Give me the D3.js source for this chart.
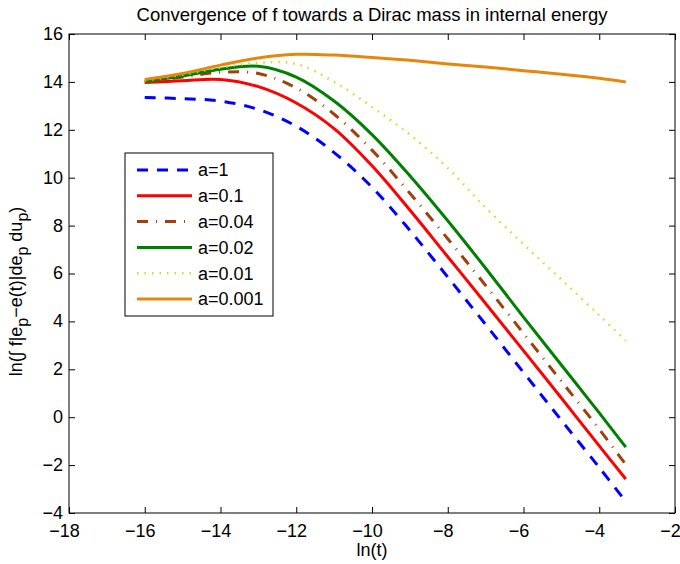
<!DOCTYPE html>
<html>
<head>
<meta charset="utf-8">
<script src="https://cdn.jsdelivr.net/npm/d3@7"></script>
<style>
  body { margin: 0; background: #fff; }
  text { font-family: "Liberation Sans", Arial, Helvetica, sans-serif; }
</style>
</head>
<body>
<div id="chart"></div>
<script>
// values
var lnT = [-16, -15, -14, -13, -12, -11, -10, -9, -8, -7, -6, -5, -4, -3.3];

var a1    = [13.35, 13.3, 13.2, 12.85, 12.15, 11.05, 9.6, 7.8, 5.85, 3.87, 1.87, -0.13, -2.1, -3.52];
var a01   = [13.97, 14.05, 14.1, 13.8, 13.12, 12.05, 10.5, 8.65, 6.7, 4.75, 2.78, 0.8, -1.2, -2.58];
var a004  = [14.0, 14.2, 14.4, 14.35, 13.75, 12.65, 11.15, 9.35, 7.45, 5.5, 3.5, 1.5, -0.5, -1.98];
var a002  = [14.03, 14.25, 14.53, 14.65, 14.2, 13.2, 11.8, 10.08, 8.2, 6.22, 4.18, 2.18, 0.18, -1.25];
var a001  = [14.05, 14.3, 14.6, 14.8, 14.75, 14.0, 12.95, 11.8, 10.4, 8.75, 7.22, 5.75, 4.25, 3.2];
var a0001 = [14.1, 14.35, 14.7, 15.0, 15.15, 15.12, 15.02, 14.9, 14.75, 14.62, 14.47, 14.32, 14.15, 14.0];

var seriesNames = ['a=1', 'a=0.1', 'a=0.04', 'a=0.02', 'a=0.01', 'a=0.001'];
var xTicks = [-18, -16, -14, -12, -10, -8, -6, -4, -2];
var yTicks = [-4, -2, 0, 2, 4, 6, 8, 10, 12, 14, 16];

(function(d3) {

  'use strict';

  var Styles = {
    color: ['#0000ff', '#ff0000', '#a0410d', '#008000', '#d8d82a', '#e5870d'],
    dash: ['11,9', null, '11,8,1,8', null, '1.5,6', null],
    width: [3, 3, 3, 3, 2.5, 3]
  };

  var FONT = 18;

  var Chart = function(element) {
    this.element = element;
    this.width = 680;
    this.height = 564;
    this.margin = { top: 34, right: 5, bottom: 51, left: 69 };
    this.svg = null;
  };

  Chart.prototype = {

    init: function() {
      this.setSvg();
      this.setScales();
      this.drawAxes();
      this.drawLines();
      this.drawLegend();
      this.drawTexts();
    },

    setSvg: function() {
      this.svg = d3.select(this.element)
        .append('svg')
        .attr('width', this.width)
        .attr('height', this.height);
    },

    setScales: function() {
      this.x = d3.scaleLinear().domain([-18, -2])
        .range([this.margin.left, this.width - this.margin.right]);
      this.y = d3.scaleLinear().domain([-4, 16])
        .range([this.height - this.margin.bottom, this.margin.top]);
    },

    fmt: function(v) {
      return v < 0 ? '\u2212' + Math.abs(v) : String(v);
    },

    drawAxes: function() {
      var x = this.x, y = this.y, fmt = this.fmt;
      var x0 = x.range()[0], x1 = x.range()[1];
      var y0 = y.range()[0], y1 = y.range()[1];

      var bottom = this.svg.append('g')
        .attr('transform', 'translate(0,' + y0 + ')')
        .call(d3.axisBottom(x).tickValues(xTicks).tickSize(-6).tickPadding(11).tickFormat(fmt));
      var top = this.svg.append('g')
        .attr('transform', 'translate(0,' + y1 + ')')
        .call(d3.axisTop(x).tickValues(xTicks).tickSize(-6).tickFormat(''));
      var left = this.svg.append('g')
        .attr('transform', 'translate(' + x0 + ',0)')
        .call(d3.axisLeft(y).tickValues(yTicks).tickSize(-6).tickPadding(6).tickFormat(fmt));
      var right = this.svg.append('g')
        .attr('transform', 'translate(' + x1 + ',0)')
        .call(d3.axisRight(y).tickValues(yTicks).tickSize(-6).tickFormat(''));

      [bottom, top, left, right].forEach(function(g) {
        g.select('.domain').remove();
        g.selectAll('.tick line').attr('stroke', '#000');
        g.selectAll('text').attr('font-size', FONT).attr('fill', '#000')
          .style('font-family', '"Liberation Sans", Arial, sans-serif');
      });
      bottom.selectAll('text').attr('dx', -5);
      left.selectAll('text').attr('dy', '0.3em');

      this.svg.append('rect')
        .attr('x', x0).attr('y', y1)
        .attr('width', x1 - x0).attr('height', y0 - y1)
        .attr('fill', 'none').attr('stroke', '#000').attr('stroke-width', 1);
    },

    drawLines: function() {
      var x = this.x, y = this.y;
      var series = [a1, a01, a004, a002, a001, a0001];
      var line = d3.line()
        .x(function(d) { return x(d[0]); })
        .y(function(d) { return y(d[1]); })
        .curve(d3.curveCatmullRom.alpha(0.5));

      this.svg.append('g').selectAll('path')
        .data(series)
        .enter()
        .append('path')
        .attr('d', function(s) { return line(d3.zip(lnT, s)); })
        .attr('fill', 'none')
        .attr('stroke', function(d, i) { return Styles.color[i]; })
        .attr('stroke-width', function(d, i) { return Styles.width[i]; })
        .attr('stroke-dasharray', function(d, i) { return Styles.dash[i]; });
    },

    drawLegend: function() {
      var g = this.svg.append('g').attr('transform', 'translate(125,153)');
      g.append('rect')
        .attr('width', 148).attr('height', 163)
        .attr('fill', '#fff').attr('stroke', '#000').attr('stroke-width', 1);

      var item = g.selectAll('g.item')
        .data(seriesNames)
        .enter()
        .append('g')
        .attr('class', 'item')
        .attr('transform', function(d, i) { return 'translate(0,' + (17 + i * 25.8) + ')'; });

      item.append('line')
        .attr('x1', 12).attr('x2', 67)
        .attr('stroke', function(d, i) { return Styles.color[i]; })
        .attr('stroke-width', function(d, i) { return Styles.width[i]; })
        .attr('stroke-dasharray', function(d, i) { return Styles.dash[i]; });

      item.append('text')
        .attr('x', 73).attr('dy', '0.35em')
        .attr('font-size', FONT)
        .text(function(d) { return d; });
    },

    drawTexts: function() {
      var cx = (this.x.range()[0] + this.x.range()[1]) / 2;
      var cy = (this.y.range()[0] + this.y.range()[1]) / 2;

      this.svg.append('text')
        .attr('x', cx).attr('y', 21)
        .attr('text-anchor', 'middle').attr('font-size', 18.5)
        .text('Convergence of f towards a Dirac mass in internal energy');

      this.svg.append('text')
        .attr('x', cx).attr('y', 556)
        .attr('text-anchor', 'middle').attr('font-size', FONT)
        .text('ln(t)');

      var yl = this.svg.append('text')
        .attr('transform', 'translate(22,' + (cy + 18) + ') rotate(-90)')
        .attr('text-anchor', 'middle').attr('font-size', FONT);
      var parts = [['ln(\u222B f|e', 0], ['p', 1], ['\u2212e(t)|de', 0], ['p', 1], [' du', 0], ['p', 1], [')', 0]];
      var prev = 0;
      parts.forEach(function(p) {
        var shift = p[1] ? 6 : 0;
        yl.append('tspan')
          .attr('dy', shift - prev)
          .attr('font-size', p[1] ? 16 : FONT)
          .text(p[0]);
        prev = shift;
      });
    }
  };

  var app = new Chart('#chart');
  app.init();

})(d3);
</script>
</body>
</html>
